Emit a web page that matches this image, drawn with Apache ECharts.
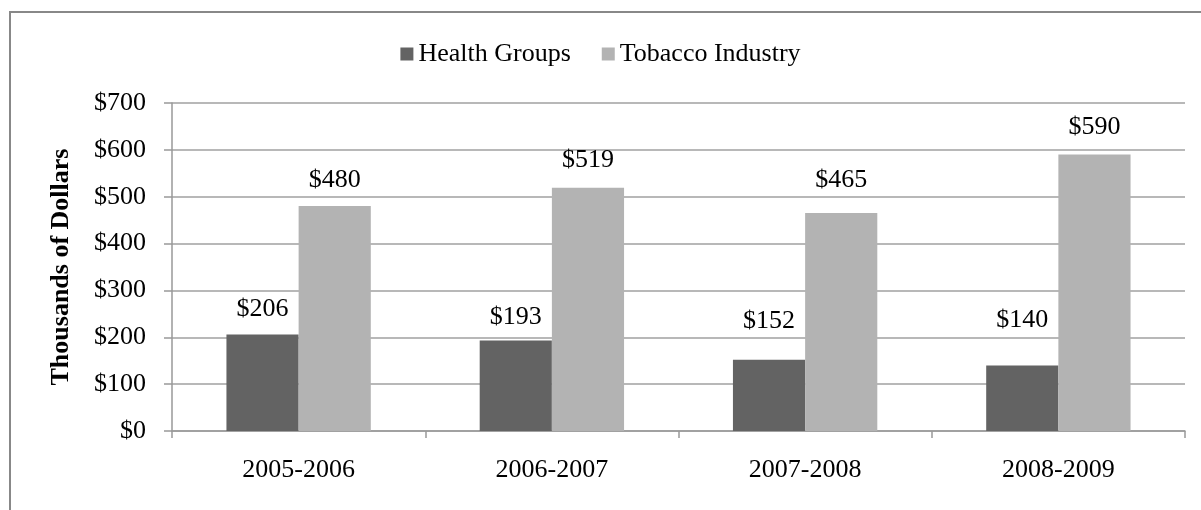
<!DOCTYPE html>
<html>
<head>
<meta charset="utf-8">
<script src="https://cdn.jsdelivr.net/npm/echarts@6/dist/echarts.min.js"></script>
<style>
  html, body { margin: 0; padding: 0; background: #fff; }
  #chart { width: 1201px; height: 510px; }
</style>
</head>
<body>
<div id="chart"></div>
<script>
// Lobbying spending by period, in thousands of dollars
const categories = ['2005-2006', '2006-2007', '2007-2008', '2008-2009'];
const healthGroups = [206, 193, 152, 140];
const tobaccoIndustry = [480, 519, 465, 590];
const seriesNames = ['Health Groups', 'Tobacco Industry'];

// How far each value label sits above its bar (px)
const healthLabelGap = [12, 10, 26, 32];
const tobaccoLabelGap = [13, 15, 20, 14];

const FONT = '"Liberation Serif", "Times New Roman", serif';
const chart = echarts.init(document.getElementById('chart'), null, { renderer: 'canvas' });

const labelStyle = {
  show: true,
  position: 'top',
  formatter: p => '$' + p.value,
  fontFamily: FONT,
  fontSize: 26,
  color: '#000'
};

const withGaps = (values, gaps) =>
  values.map((v, i) => ({ value: v, label: { distance: gaps[i] } }));

chart.setOption({
  animation: false,
  backgroundColor: '#fff',
  textStyle: { fontFamily: FONT },
  graphic: [{
    type: 'rect',
    shape: { x: 10, y: 12, width: 1300, height: 700 },
    style: { fill: 'none', stroke: '#888', lineWidth: 2 },
    silent: true
  }],
  legend: {
    top: 36,
    left: 'center',
    itemWidth: 13,
    itemHeight: 13,
    itemGap: 31,
    icon: 'rect',
    textStyle: { fontFamily: FONT, fontSize: 26, color: '#000' },
    data: seriesNames
  },
  grid: { left: 172, right: 16, top: 103, bottom: 79, containLabel: false },
  xAxis: {
    type: 'category',
    data: categories,
    axisLine: { lineStyle: { color: '#999', width: 1.5 } },
    axisTick: { show: true, length: 7, lineStyle: { color: '#999', width: 1.5 } },
    axisLabel: { fontFamily: FONT, fontSize: 26, color: '#000', margin: 26 }
  },
  yAxis: {
    type: 'value',
    min: 0,
    max: 700,
    interval: 100,
    name: 'Thousands of Dollars',
    nameLocation: 'middle',
    nameGap: 98,
    nameTextStyle: { fontFamily: FONT, fontSize: 26, fontWeight: 'bold', color: '#000' },
    axisLine: { show: true, lineStyle: { color: '#999', width: 1.5 } },
    axisTick: { show: true, length: 8, lineStyle: { color: '#999', width: 1.5 } },
    axisLabel: { fontFamily: FONT, fontSize: 26, color: '#000', margin: 26, formatter: v => '$' + v },
    splitLine: { show: true, lineStyle: { color: '#a0a0a0', width: 1.5 } }
  },
  series: [
    {
      name: seriesNames[0],
      type: 'bar',
      data: withGaps(healthGroups, healthLabelGap),
      barGap: '0%',
      barCategoryGap: '43%',
      itemStyle: { color: '#636363' },
      label: labelStyle
    },
    {
      name: seriesNames[1],
      type: 'bar',
      data: withGaps(tobaccoIndustry, tobaccoLabelGap),
      itemStyle: { color: '#b3b3b3' },
      label: labelStyle
    }
  ]
});
</script>
</body>
</html>
